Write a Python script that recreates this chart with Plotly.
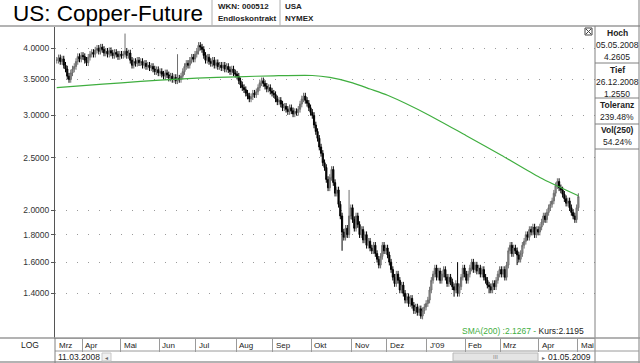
import math
import pandas as pd
import plotly.graph_objects as go

# ---------------- data ----------------
FIRST_DAY = "2008-03-11"
LAST_DAY = "2009-05-01"

CLOSE_2008_03 = [3.80, 3.84, 3.78, 3.82, 3.72, 3.66, 3.55, 3.50, 3.60, 3.66, 3.70, 3.78, 3.86, 3.82, 3.88]
CLOSE_2008_04 = [3.86, 3.80, 3.76, 3.85, 3.90, 3.93, 3.90, 3.97, 4.00, 3.95, 4.02, 3.98, 3.92, 3.95, 3.90,
                 3.96, 3.92, 3.88, 3.93, 3.90, 3.86, 3.90]
CLOSE_2008_05 = [3.88, 3.90, 3.95, 3.88, 3.92, 3.80, 3.72, 3.78, 3.75, 3.80, 3.76, 3.78, 3.72, 3.75, 3.70,
                 3.72, 3.68, 3.70, 3.66, 3.62, 3.65, 3.60]
CLOSE_2008_06 = [3.62, 3.58, 3.55, 3.60, 3.57, 3.52, 3.55, 3.50, 3.53, 3.48, 3.52, 3.50, 3.55, 3.62, 3.70,
                 3.75, 3.72, 3.80, 3.85, 3.82, 3.90]
CLOSE_2008_07 = [3.95, 4.05, 4.02, 3.98, 3.88, 3.80, 3.85, 3.78, 3.75, 3.80, 3.72, 3.76, 3.70, 3.72, 3.68,
                 3.72, 3.66, 3.70, 3.65, 3.62, 3.66, 3.60, 3.58]
CLOSE_2008_08 = [3.55, 3.48, 3.42, 3.38, 3.35, 3.30, 3.26, 3.22, 3.25, 3.30, 3.28, 3.32, 3.38, 3.45, 3.48,
                 3.44, 3.40, 3.36, 3.38, 3.33, 3.30]
CLOSE_2008_09 = [3.28, 3.22, 3.18, 3.20, 3.15, 3.10, 3.12, 3.08, 3.05, 3.10, 3.06, 3.02, 3.05, 3.04, 3.08,
                 3.15, 3.22, 3.26, 3.20, 3.16, 3.10, 3.04]
CLOSE_2008_10 = [3.00, 2.88, 2.80, 2.72, 2.62, 2.55, 2.45, 2.40, 2.28, 2.20, 2.30, 2.38, 2.25, 2.15, 2.18,
                 2.05, 1.95, 1.82, 1.78, 1.85, 1.80, 1.95, 2.02]
CLOSE_2008_11 = [1.92, 1.85, 1.95, 1.88, 1.80, 1.84, 1.76, 1.80, 1.72, 1.75, 1.70, 1.68, 1.72, 1.66, 1.62,
                 1.58, 1.64, 1.72, 1.68, 1.70]
CLOSE_2008_12 = [1.65, 1.60, 1.55, 1.50, 1.46, 1.52, 1.48, 1.42, 1.45, 1.40, 1.36, 1.38, 1.34, 1.37, 1.33,
                 1.30, 1.32, 1.29, 1.31, 1.27, 1.30, 1.32, 1.34]
CLOSE_2009_01 = [1.36, 1.42, 1.48, 1.52, 1.56, 1.50, 1.54, 1.48, 1.52, 1.55, 1.50, 1.46, 1.50, 1.47, 1.44,
                 1.42, 1.46, 1.40, 1.44, 1.50, 1.56, 1.52]
CLOSE_2009_02 = [1.48, 1.52, 1.56, 1.60, 1.55, 1.58, 1.54, 1.56, 1.52, 1.55, 1.50, 1.48, 1.45, 1.44, 1.42,
                 1.46, 1.44, 1.48, 1.52, 1.55]
CLOSE_2009_03 = [1.52, 1.55, 1.50, 1.58, 1.68, 1.72, 1.66, 1.70, 1.68, 1.65, 1.62, 1.66, 1.72, 1.75, 1.80,
                 1.78, 1.84, 1.82, 1.86, 1.80, 1.84, 1.82]
CLOSE_2009_04 = [1.86, 1.90, 1.95, 1.92, 1.98, 2.02, 2.05, 2.08, 2.15, 2.22, 2.26, 2.20, 2.18, 2.14, 2.10,
                 2.06, 2.08, 2.02, 1.98, 1.95, 1.92, 2.02]
CLOSE_2009_05 = [2.1195]

WICK_SHARE = 0.014
HIGH_SPIKES = {"2008-05-05": 4.2605, "2008-06-16": 3.90, "2008-10-30": 2.18, "2009-01-26": 1.60}
LOW_SPIKES = {"2008-03-20": 3.45, "2008-10-24": 1.68, "2008-12-26": 1.2550, "2009-01-22": 1.38,
              "2009-02-19": 1.40, "2009-03-13": 1.58}

SMA_DATES = ["2008-03-11", "2008-04-01", "2008-05-01", "2008-06-02", "2008-07-01", "2008-08-01",
             "2008-09-01", "2008-10-01", "2008-10-15", "2008-11-03", "2008-11-17", "2008-12-01",
             "2009-01-02", "2009-02-02", "2009-03-02", "2009-04-01", "2009-05-01"]
SMA_VALUES = [3.38, 3.41, 3.45, 3.49, 3.52, 3.54, 3.555, 3.56, 3.53, 3.45, 3.36, 3.27,
              3.00, 2.75, 2.53, 2.30, 2.1267]

Y_TICKS = [1.4, 1.6, 1.8, 2.0, 2.5, 3.0, 3.5, 4.0]
Y_TICK_TEXT = ["1.4000", "1.6000", "1.8000", "2.0000", "2.5000", "3.0000", "3.5000", "4.0000"]
MONTH_LABELS = ["Mrz", "Apr", "Mai", "Jun", "Jul", "Aug", "Sep", "Okt", "Nov", "Dez", "J'09",
                "Feb", "Mrz", "Apr", "Mai"]

TITLE = "US: Copper-Future"
INFO_LEFT = ["WKN: 000512", "Endloskontrakt"]
INFO_RIGHT = ["USA", "NYMEX"]
STAT_ROWS = [("Hoch", True), ("05.05.2008", False), ("4.2605", False),
             ("Tief", True), ("26.12.2008", False), ("1.2550", False),
             ("Toleranz", True), ("239.48%", False),
             ("Vol(250)", True), ("54.24%", False)]
SMA_LABEL = "SMA(200) :2.1267 - "
KURS_LABEL = "Kurs:2.1195"
START_LABEL = "11.03.2008"
END_LABEL = "01.05.2009"

# ---------------- derived series ----------------
dates = pd.bdate_range(FIRST_DAY, LAST_DAY)
closes = (CLOSE_2008_03 + CLOSE_2008_04 + CLOSE_2008_05 + CLOSE_2008_06 + CLOSE_2008_07 +
          CLOSE_2008_08 + CLOSE_2008_09 + CLOSE_2008_10 + CLOSE_2008_11 + CLOSE_2008_12 +
          CLOSE_2009_01 + CLOSE_2009_02 + CLOSE_2009_03 + CLOSE_2009_04 + CLOSE_2009_05)
n = min(len(dates), len(closes))
dates = dates[:n]
closes = closes[:n]
keys = [d.strftime("%Y-%m-%d") for d in dates]
pos = list(range(n))
opens = [closes[0]] + closes[:-1]
highs = [max(o, c) * (1 + WICK_SHARE) for o, c in zip(opens, closes)]
lows = [min(o, c) * (1 - WICK_SHARE) for o, c in zip(opens, closes)]
for k, v in HIGH_SPIKES.items():
    if k in keys:
        highs[keys.index(k)] = v
for k, v in LOW_SPIKES.items():
    if k in keys:
        lows[keys.index(k)] = v

sma_x = [keys.index(d) if d in keys else n - 1 for d in SMA_DATES]
month_starts = [i for i in range(n) if i == 0 or dates[i].month != dates[i - 1].month]

# ---------------- geometry helpers (pixels -> paper) ----------------
W, H = 640, 363
L, R, T, B = 55, 45, 27, 25
PW, PH = W - L - R, H - T - B
X_RANGE = [-1, 307.5]


def px(x):
    return (x - L) / PW


def py(y):
    return (H - B - y) / PH


GREEN = "#3fae3f"
GRAY = "#8a8a8a"
FONT = "Liberation Sans, Arial, sans-serif"

fig = go.Figure()
fig.add_trace(go.Candlestick(
    x=pos, open=opens, high=highs, low=lows, close=closes,
    increasing=dict(line=dict(color="#6e6e6e", width=1), fillcolor="#9a9a9a"),
    decreasing=dict(line=dict(color="#000000", width=1), fillcolor="#000000"),
    whiskerwidth=0, hoverinfo="skip", showlegend=False))
fig.add_trace(go.Scatter(
    x=sma_x, y=SMA_VALUES, mode="lines",
    line=dict(color=GREEN, width=1.2, shape="spline", smoothing=0.7),
    hoverinfo="skip", showlegend=False))

shapes = []


def hline(y, x0, x1, color=GRAY, width=1):
    shapes.append(dict(type="line", xref="paper", yref="paper", x0=px(x0), x1=px(x1),
                       y0=py(y), y1=py(y), line=dict(color=color, width=width)))


def vline(x, y0, y1, color=GRAY, width=1):
    shapes.append(dict(type="line", xref="paper", yref="paper", x0=px(x), x1=px(x),
                       y0=py(y0), y1=py(y1), line=dict(color=color, width=width)))


hline(26, 0, 640, "#9a9a9a", 1.5)
vline(212, 0, 26, "#b0b0b0")
vline(280, 0, 26, "#b0b0b0")
vline(595, 26, 363, "#808080")
vline(639, 0, 363, "#808080")
for yy in (63, 98, 124, 149):
    hline(yy, 595, 639, "#808080")
hline(338, 0, 640, "#9a9a9a", 1.5)
hline(351, 55, 639, "#9a9a9a")
hline(362, 0, 640, "#9a9a9a", 1.5)
vline(55, 338, 363, "#808080")
shapes.append(dict(type="rect", xref="paper", yref="paper", x0=px(102), x1=px(111), y0=py(361), y1=py(353),
                   line=dict(color="#c8c8c8", width=1), fillcolor="#f0f0f0"))
shapes.append(dict(type="rect", xref="paper", yref="paper", x0=px(453), x1=px(538), y0=py(361), y1=py(353),
                   line=dict(color="#b8b8b8", width=1), fillcolor="#e4e4e4"))
shapes.append(dict(type="rect", xref="paper", yref="paper", x0=px(585), x1=px(592), y0=py(35), y1=py(28),
                   line=dict(color="#444", width=1), fillcolor="white"))
shapes.append(dict(type="line", xref="paper", yref="paper", x0=px(586), x1=px(591), y0=py(34), y1=py(29),
                   line=dict(color="#444", width=1)))
shapes.append(dict(type="line", xref="paper", yref="paper", x0=px(586), x1=px(591), y0=py(29), y1=py(34),
                   line=dict(color="#444", width=1)))

ann = []


def text(x, y, s, size=8.5, anchor="left", bold=False, color="#222", family=FONT):
    ann.append(dict(xref="paper", yref="paper", x=px(x), y=py(y), text=(f"<b>{s}</b>" if bold else s),
                    showarrow=False, xanchor=anchor, yanchor="middle",
                    font=dict(family=family, size=size, color=color)))


text(11, 14, TITLE, size=22.5, color="#000")
text(216, 7, INFO_LEFT[0], size=8, bold=True)
text(216, 18, INFO_LEFT[1], size=8, bold=True)
text(283, 7, INFO_RIGHT[0], size=8, bold=True)
text(283, 18, INFO_RIGHT[1], size=8, bold=True)

stat_y = [33, 45, 57, 70, 82, 94, 105, 117, 130, 142]
for (label, bold), yy in zip(STAT_ROWS, stat_y):
    text(617, yy, label, size=8.5, anchor="center", bold=bold)

text(30, 345, "LOG", size=8.5, anchor="center")
for k, i in enumerate(month_starts):
    xv = max(i - 0.5, X_RANGE[0])
    ann.append(dict(xref="x", yref="paper", x=xv, y=py(345), text=MONTH_LABELS[k % len(MONTH_LABELS)],
                    showarrow=False, xanchor="left", yanchor="middle", xshift=1,
                    font=dict(family=FONT, size=8, color="#222")))
text(56, 357, START_LABEL, size=8.5)
text(106.5, 357, "◂", size=6, anchor="center", color="#666", family="DejaVu Sans")
text(495.5, 357, "III", size=6, anchor="center", color="#888")
text(543, 357, "▸", size=6, anchor="center", color="#666", family="DejaVu Sans")
text(593, 357, END_LABEL, size=8.5, anchor="right")
text(586, 331, f"<span style='color:{GREEN}'>{SMA_LABEL}</span>{KURS_LABEL}", size=8.5, anchor="right")

fig.update_layout(
    width=W, height=H, margin=dict(l=L, r=R, t=T, b=B),
    paper_bgcolor="white", plot_bgcolor="white", showlegend=False,
    font=dict(family=FONT, size=9, color="#222"),
    boxgap=0.05,
    shapes=shapes, annotations=ann,
    xaxis=dict(range=X_RANGE, rangeslider=dict(visible=False), showgrid=False, zeroline=False,
               showline=True, linecolor="#9a9a9a", linewidth=1,
               tickmode="array", tickvals=[i - 0.5 for i in month_starts[1:]],
               ticktext=["" for _ in month_starts[1:]], ticks="outside", ticklen=13,
               tickcolor="#9a9a9a", tickwidth=1, showticklabels=False, fixedrange=True),
    yaxis=dict(type="log", range=[math.log10(1.156), math.log10(4.382)],
               tickmode="array", tickvals=Y_TICKS, ticktext=Y_TICK_TEXT,
               ticks="outside", ticklen=3, tickcolor="#555", showline=True, linecolor="#555",
               linewidth=1, showgrid=True, gridcolor="#9a9a9a", griddash="1px,10px", gridwidth=1,
               zeroline=False, tickfont=dict(family=FONT, size=8.5, color="#333"), fixedrange=True),
)

fig.write_html(
    "out.html",
    config={"displayModeBar": False},
    post_script="document.body.style.margin='0';document.body.style.overflow='hidden';",
)
